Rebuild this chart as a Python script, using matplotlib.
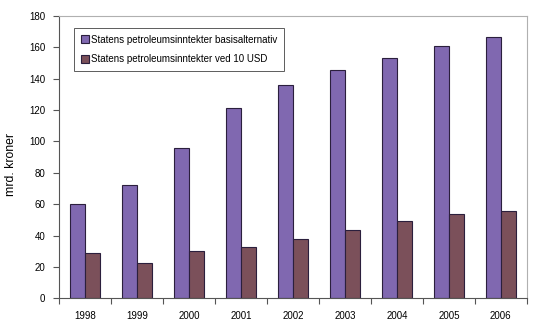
import numpy as np
import matplotlib.pyplot as plt

plt.rcParams['font.family'] = ['Liberation Sans', 'DejaVu Sans']

years = ['1998', '1999', '2000', '2001', '2002', '2003', '2004', '2005', '2006']
basis = [60, 72, 96, 121, 136, 145.5, 153, 161, 166.5]
usd10 = [29, 22.3, 30, 33, 37.7, 43.5, 49.3, 53.6, 55.7]

fig = plt.figure(figsize=(5.37, 3.3), dpi=100)
ax = fig.add_axes([0.110, 0.096, 0.871, 0.856])

x = np.arange(len(years))
w = 0.29
ax.bar(x - w / 2, basis, w, color='#8068b0', edgecolor='#2b1f3d', linewidth=0.8,
       label='Statens petroleumsinntekter basisalternativ')
ax.bar(x + w / 2, usd10, w, color='#7b505a', edgecolor='#2b1f3d', linewidth=0.8,
       label='Statens petroleumsinntekter ved 10 USD')

ax.set_xlim(-0.5, len(years) - 0.5)
ax.set_ylim(0, 180)
ax.set_yticks(range(0, 181, 20))
ax.set_xticks(x)
ax.set_xticklabels(years)
ax.set_xticks(np.arange(-0.5, len(years)), minor=True)
ax.tick_params(axis='x', which='major', length=0, pad=9, labelsize=7)
ax.tick_params(axis='x', which='minor', length=4, width=0.8, color='#555555', direction='out')
ax.tick_params(axis='y', length=4, width=0.8, color='#555555', labelsize=7, pad=6)

for side in ['top', 'right']:
    ax.spines[side].set_color('#b0b0b0')
    ax.spines[side].set_linewidth(0.8)
for side in ['left', 'bottom']:
    ax.spines[side].set_color('#555555')
    ax.spines[side].set_linewidth(0.8)

ax.set_ylabel('mrd. kroner', fontsize=8.8)
ax.yaxis.set_label_coords(-0.09, 0.472)

leg = ax.legend(loc='upper left', bbox_to_anchor=(0.032, 0.958), borderaxespad=0,
                fontsize=7, frameon=True, fancybox=False, edgecolor='#333333',
                handlelength=0.8, handleheight=0.8, handletextpad=0.2,
                labelspacing=1.0, borderpad=0.7)
leg.get_frame().set_linewidth(0.7)

fig.savefig('out.png', dpi=100)
